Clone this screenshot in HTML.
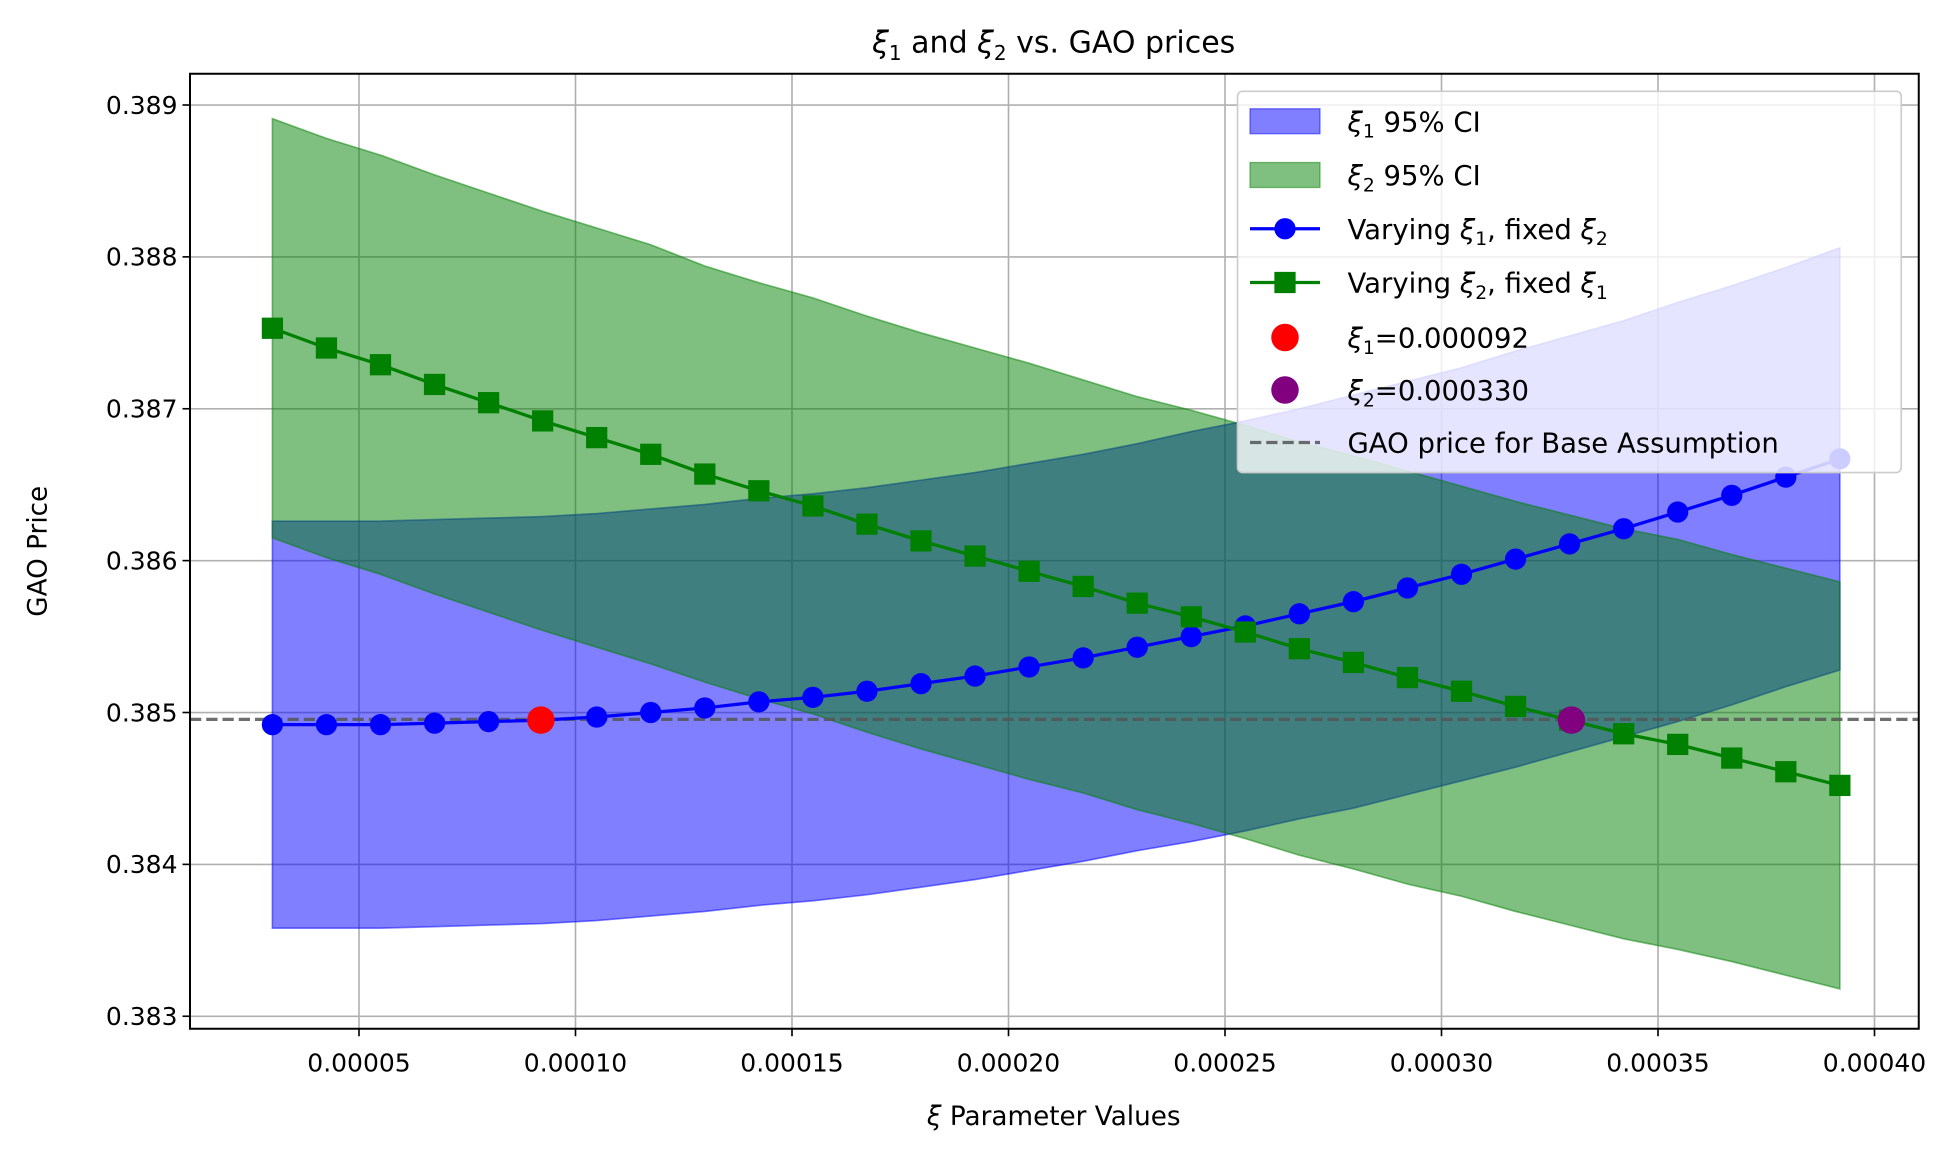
<!DOCTYPE html>
<html><head><meta charset="utf-8"><style>
html,body{margin:0;padding:0;background:#fff}
svg{display:block}
text{font-family:"DejaVu Sans","Liberation Sans",sans-serif;fill:#000}
</style></head><body>
<svg id="chart" width="1950" height="1149" viewBox="0 0 1560 919.2" xmlns="http://www.w3.org/2000/svg"></svg>
<script>
const xTicks=[0.00005,0.0001,0.00015,0.0002,0.00025,0.0003,0.00035,0.0004];
const xTickLabels=["0.00005","0.00010","0.00015","0.00020","0.00025","0.00030","0.00035","0.00040"];
const yTicks=[0.383,0.384,0.385,0.386,0.387,0.388,0.389];
const yTickLabels=["0.383","0.384","0.385","0.386","0.387","0.388","0.389"];
const xStart=0.00003, xEnd=0.000392, nPts=30;
const blue=[0.38492,0.38492,0.38492,0.38493,0.38494,0.38495,0.38497,0.38500,0.38503,0.38507,0.38510,0.38514,0.38519,0.38524,0.38530,0.38536,0.38543,0.38550,0.38557,0.38565,0.38573,0.38582,0.38591,0.38601,0.38611,0.38621,0.38632,0.38643,0.38655,0.38667];
const blueUpper=[0.38626,0.38626,0.38626,0.38627,0.38628,0.38629,0.38631,0.38634,0.38637,0.38641,0.38644,0.38648,0.38653,0.38658,0.38664,0.38670,0.38677,0.38685,0.38692,0.38700,0.38709,0.38718,0.38727,0.38738,0.38748,0.38758,0.38770,0.38781,0.38793,0.38806];
const blueLower=[0.38358,0.38358,0.38358,0.38359,0.38360,0.38361,0.38363,0.38366,0.38369,0.38373,0.38376,0.38380,0.38385,0.38390,0.38396,0.38402,0.38409,0.38415,0.38422,0.38430,0.38437,0.38446,0.38455,0.38464,0.38474,0.38484,0.38494,0.38505,0.38517,0.38528];
const green=[0.38753,0.38740,0.38729,0.38716,0.38704,0.38692,0.38681,0.38670,0.38657,0.38646,0.38636,0.38624,0.38613,0.38603,0.38593,0.38583,0.38572,0.38563,0.38553,0.38542,0.38533,0.38523,0.38514,0.38504,0.38495,0.38486,0.38479,0.38470,0.38461,0.38452];
const greenUpper=[0.38891,0.38878,0.38867,0.38854,0.38842,0.38830,0.38819,0.38808,0.38794,0.38783,0.38773,0.38761,0.38750,0.38740,0.38730,0.38719,0.38708,0.38699,0.38689,0.38678,0.38669,0.38659,0.38649,0.38639,0.38630,0.38621,0.38614,0.38604,0.38595,0.38586];
const greenLower=[0.38615,0.38602,0.38591,0.38578,0.38566,0.38554,0.38543,0.38532,0.38520,0.38509,0.38499,0.38487,0.38476,0.38466,0.38456,0.38447,0.38436,0.38427,0.38417,0.38406,0.38397,0.38387,0.38379,0.38369,0.38360,0.38351,0.38344,0.38336,0.38327,0.38318];
const xi1Point=[0.000092,0.38495];
const xi2Point=[0.000330,0.38495];
const baseValue=0.384955;

const NS="http://www.w3.org/2000/svg";
const svg=document.getElementById('chart');
const L=152,R=1535,T=59,B=823;
const xScale=v=>114+(v/0.00005)*173.2;
const yScale=v=>570-(v-0.385)*121500;
const xs=[];for(let i=0;i<nPts;i++)xs.push(xStart+(xEnd-xStart)*i/(nPts-1));
function mk(tag,attrs,parent){const e=document.createElementNS(NS,tag);for(const k in attrs)e.setAttribute(k,attrs[k]);(parent||svg).appendChild(e);return e;}

xTicks.forEach((t,i)=>{const x=xScale(t);
 const g=mk('line',{x1:x,x2:x,y1:T,y2:B,stroke:'#b0b0b0','stroke-width':1.3});
 
 mk('line',{x1:x,x2:x,y1:B,y2:B+6,stroke:'#000','stroke-width':1.3});
 const tx=mk('text',{x:x,y:B+34,'text-anchor':'middle','font-size':20});tx.textContent=xTickLabels[i];
 });
yTicks.forEach((t,i)=>{const y=yScale(t);
 const g=mk('line',{x1:L,x2:R,y1:y,y2:y,stroke:'#b0b0b0','stroke-width':1.3});
 
 mk('line',{x1:L-6,x2:L,y1:y,y2:y,stroke:'#000','stroke-width':1.3});
 const tx=mk('text',{x:L-10,y:y+7,'text-anchor':'end','font-size':20});tx.textContent=yTickLabels[i];
 });

function band(up,lo,fill,stroke,name){let d='';
 xs.forEach((x,i)=>{d+=(i?'L':'M')+xScale(x)+','+yScale(up[i]);});
 for(let i=nPts-1;i>=0;i--)d+='L'+xScale(xs[i])+','+yScale(lo[i]);
 const p=mk('path',{d:d+'Z',fill:fill,'fill-opacity':0.5,stroke:stroke,'stroke-opacity':0.5,'stroke-width':1.3});
 }
band(blueUpper,blueLower,'#0000ff','#0000ff','xi1-ci-band');
band(greenUpper,greenLower,'#008000','#008000','xi2-ci-band');

const bl=mk('line',{x1:L,x2:R,y1:yScale(baseValue),y2:yScale(baseValue),stroke:'#555','stroke-opacity':0.85,'stroke-width':2.6,'stroke-dasharray':'9,4'});


function series(vals,color,marker,name){
 const pts=xs.map((x,i)=>xScale(x)+','+yScale(vals[i])).join(' ');
 const pl=mk('polyline',{points:pts,fill:'none',stroke:color,'stroke-width':2.6});
 
 xs.forEach((x,i)=>{let m;
  if(marker==='o')m=mk('circle',{cx:xScale(x),cy:yScale(vals[i]),r:8.5,fill:color});
  else m=mk('rect',{x:xScale(x)-8.5,y:yScale(vals[i])-8.5,width:17,height:17,fill:color});
  });}
series(blue,'#0000ff','o','varying-xi1');
series(green,'#008000','s','varying-xi2');
const rp=mk('circle',{cx:xScale(xi1Point[0]),cy:yScale(xi1Point[1]),r:11,fill:'#ff0000'});

const pp=mk('circle',{cx:xScale(xi2Point[0]),cy:yScale(xi2Point[1]),r:11,fill:'#800080'});


const fr=mk('rect',{x:L,y:T,width:R-L,height:B-T,fill:'none',stroke:'#000','stroke-width':1.6});

</script>
<svg x="0" y="0" style="position:absolute;left:0;top:0" width="1950" height="1149" viewBox="0 0 1560 919.2">
 <text x="843" y="42" text-anchor="middle" font-size="24"><tspan font-style="italic">ξ</tspan><tspan font-size="16" dy="6">1</tspan><tspan dy="-6"> and </tspan><tspan font-style="italic">ξ</tspan><tspan font-size="16" dy="6">2</tspan><tspan dy="-6"> vs. GAO prices</tspan></text>
 <text x="843" y="900" text-anchor="middle" font-size="21"><tspan font-style="italic">ξ</tspan> Parameter Values</text>
 <text transform="translate(37,441) rotate(-90)" text-anchor="middle" font-size="21">GAO Price</text>
 <g font-size="22">
  <rect x="990" y="73" width="531" height="305" rx="4" fill="#fff" fill-opacity="0.8" stroke="#ccc" stroke-width="1.3"/>
  <rect x="1000" y="87" width="56" height="20" fill="#0000ff" fill-opacity="0.5" stroke="#0000ff" stroke-opacity="0.5"/>
  <text x="1078" y="105"><tspan font-style="italic">ξ</tspan><tspan font-size="15" dy="5">1</tspan><tspan dy="-5"> 95% CI</tspan></text>
  <rect x="1000" y="130" width="56" height="20" fill="#008000" fill-opacity="0.5" stroke="#008000" stroke-opacity="0.5"/>
  <text x="1078" y="148"><tspan font-style="italic">ξ</tspan><tspan font-size="15" dy="5">2</tspan><tspan dy="-5"> 95% CI</tspan></text>
  <line x1="1000" x2="1056" y1="183" y2="183" stroke="#0000ff" stroke-width="2.6"/><circle cx="1028" cy="183" r="8.5" fill="#0000ff"/>
  <text x="1078" y="191">Varying <tspan font-style="italic">ξ</tspan><tspan font-size="15" dy="5">1</tspan><tspan dy="-5">, fixed </tspan><tspan font-style="italic">ξ</tspan><tspan font-size="15" dy="5">2</tspan></text>
  <line x1="1000" x2="1056" y1="226" y2="226" stroke="#008000" stroke-width="2.6"/><rect x="1019.5" y="217.5" width="17" height="17" fill="#008000"/>
  <text x="1078" y="234">Varying <tspan font-style="italic">ξ</tspan><tspan font-size="15" dy="5">2</tspan><tspan dy="-5">, fixed </tspan><tspan font-style="italic">ξ</tspan><tspan font-size="15" dy="5">1</tspan></text>
  <circle cx="1028" cy="270" r="11" fill="#ff0000"/>
  <text x="1078" y="278"><tspan font-style="italic">ξ</tspan><tspan font-size="15" dy="5">1</tspan><tspan dy="-5">=0.000092</tspan></text>
  <circle cx="1028" cy="312" r="11" fill="#800080"/>
  <text x="1078" y="320"><tspan font-style="italic">ξ</tspan><tspan font-size="15" dy="5">2</tspan><tspan dy="-5">=0.000330</tspan></text>
  <line x1="1000" x2="1056" y1="354" y2="354" stroke="#555" stroke-opacity="0.85" stroke-width="2.6" stroke-dasharray="9,4"/>
  <text x="1078" y="362">GAO price for Base Assumption</text>
 </g>
</svg>
</body></html>
